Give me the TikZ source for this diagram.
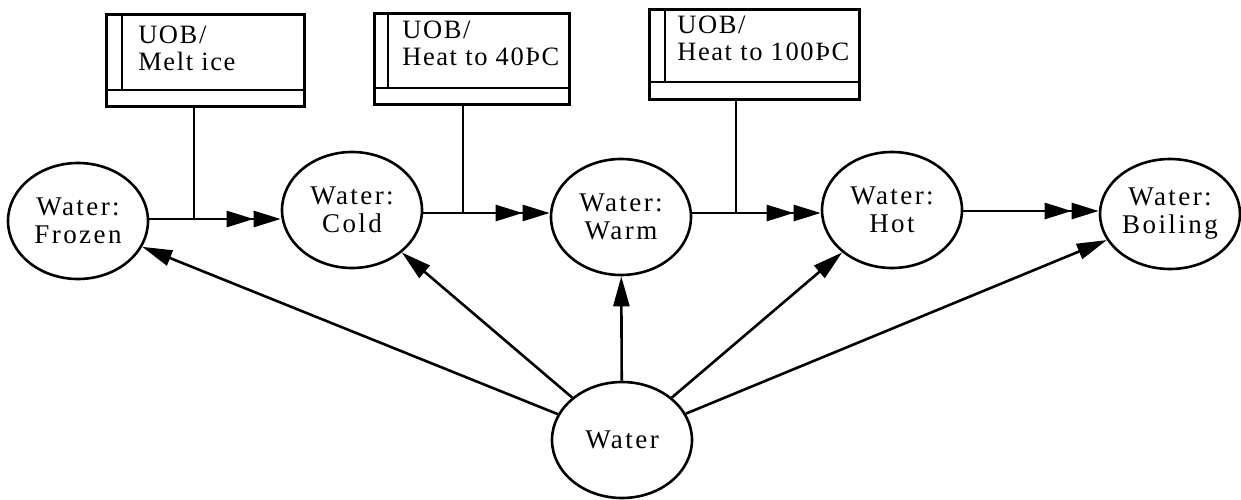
\documentclass[tikz,border=0pt]{standalone}
\usepackage{fontspec}
\setmainfont{Liberation Serif}[LetterSpace=9]
\newfontfamily\uobfont{Liberation Serif}[LetterSpace=6]
\usetikzlibrary{arrows.meta,shapes.geometric,calc}
\begin{document}
\begin{tikzpicture}[x=1pt,y=-1pt,
  line width=2.6pt,
  state/.style={draw,ellipse,inner sep=0pt,minimum width=140pt,minimum height=116pt,
    align=center,font=\fontsize{27}{28}\selectfont},
  uob/.style={draw,rectangle,inner sep=0pt,anchor=north west},
  uobtext/.style={anchor=base west,inner sep=0pt,align=left,font=\uobfont\fontsize{26.5}{27}\selectfont},
  tri/.style={-{Triangle[length=30pt,width=16pt]}},
  dbl/.style={-{Triangle[length=27pt,width=16pt]Triangle[length=27pt,width=16pt]}}]
\useasboundingbox (0,0) rectangle (1241,500);
% states
\node[state] (frozen) at (78,221) {Water:\\Frozen};
\node[state] (cold) at (352,210) {Water:\\Cold};
\node[state] (warm) at (621,217) {Water:\\Warm};
\node[state] (hot) at (892,210) {Water:\\Hot};
\node[state,minimum height=110pt] (boiling) at (1170,214) {Water:\\Boiling};
\node[state] (water) at (622,440) {Water};
% UOB boxes
\node[uob,minimum width=198pt,minimum height=92pt] (b1) at (105,13) {};
\node[uob,minimum width=195pt,minimum height=91pt] (b2) at (373,12) {};
\node[uob,minimum width=210pt,minimum height=90pt] (b3) at (648,8) {};
\coordinate (d1) at (122,90);
\coordinate (d2) at (388,88);
\coordinate (d3) at (665,82);
\draw (b1.west |- d1) -- (b1.east |- d1);
\draw (d1 |- b1.north) -- (d1);
\draw (b2.west |- d2) -- (b2.east |- d2);
\draw (d2 |- b2.north) -- (d2);
\draw (b3.west |- d3) -- (b3.east |- d3);
\draw (d3 |- b3.north) -- (d3);
\node[uobtext] (t1) at (137,71) {UOB/\\Melt ice};
\node[uobtext] (t2) at (401,66) {UOB/\\Heat to 40ÞC};
\node[uobtext] (t3) at (676,61) {UOB/\\Heat to 100ÞC};
% transitions
\coordinate (j1) at (194,219);
\coordinate (j2) at (463,213);
\coordinate (j3) at (736,213);
\coordinate (j4) at (1000,211);
\draw[dbl] (frozen.east |- j1) -- (cold.west |- j1);
\draw[dbl] (cold.east |- j2) -- (warm.west |- j2);
\draw[dbl] (warm.east |- j3) -- (hot.west |- j3);
\draw[dbl] (hot.east |- j4) -- (boiling.west |- j4);
\draw (b1.south -| j1) -- (j1);
\draw (b2.south -| j2) -- (j2);
\draw (b3.south -| j3) -- (j3);
% generalisation links
\draw[tri] (water) -- (frozen);
\draw[tri] (water) -- (cold);
\draw[tri] (water) -- (warm);
\draw[tri] (water) -- (hot);
\draw[tri] (water) -- (boiling);
\end{tikzpicture}
\end{document}
